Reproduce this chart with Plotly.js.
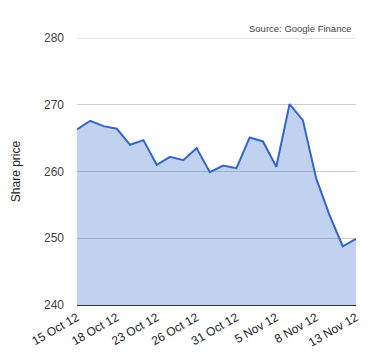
<!DOCTYPE html>
<html>
<head>
<meta charset="utf-8">
<script src="https://cdn.plot.ly/plotly-3.0.1.min.js"></script>
<style>html,body{margin:0;padding:0;background:#fff;}#chart{width:380px;height:360px;}</style>
</head>
<body>
<div id="chart"></div>
<script>
var dates = ["15 Oct 12","16 Oct 12","17 Oct 12","18 Oct 12","19 Oct 12","22 Oct 12","23 Oct 12","24 Oct 12","25 Oct 12","26 Oct 12","29 Oct 12","30 Oct 12","31 Oct 12","1 Nov 12","2 Nov 12","5 Nov 12","6 Nov 12","7 Nov 12","8 Nov 12","9 Nov 12","12 Nov 12","13 Nov 12"];
var prices = [266.3,267.6,266.8,266.4,264.0,264.7,261.0,262.2,261.7,263.5,259.9,260.9,260.5,265.1,264.5,260.7,270.1,267.7,259.0,253.5,248.8,249.9];
var tickLabels = ["15 Oct 12","18 Oct 12","23 Oct 12","26 Oct 12","31 Oct 12","5 Nov 12","8 Nov 12","13 Nov 12"];
var yTicks = [240,250,260,270,280];
var yMin = yTicks[0], yMax = yTicks[yTicks.length - 1];

var trace = {
  x: dates, y: prices, type: 'scatter', mode: 'lines',
  line: {color: '#3366cc', width: 2},
  fill: 'tozeroy', fillcolor: 'rgba(51,102,204,0.3)',
  hoverinfo: 'x+y'
};
var layout = {
  width: 380, height: 360,
  margin: {l: 77, r: 24, t: 38, b: 55},
  paper_bgcolor: '#fff', plot_bgcolor: '#fff',
  font: {family: 'Liberation Sans, Arial, sans-serif', size: 12, color: '#444'},
  showlegend: false,
  xaxis: {
    type: 'category', range: [0, dates.length - 1],
    tickmode: 'array', tickvals: tickLabels, ticktext: tickLabels,
    tickangle: -30, showgrid: false, ticks: '',
    showline: true, linecolor: '#333', linewidth: 1,
    tickfont: {size: 12, color: '#222'}, zeroline: false
  },
  yaxis: {
    range: [yMin, yMax], tickmode: 'array', tickvals: yTicks,
    showgrid: true, gridcolor: '#ccc', gridwidth: 1, zeroline: false,
    ticks: '', ticklabelstandoff: 12, tickfont: {size: 12, color: '#444'},
    title: {text: 'Share price', font: {size: 12, color: '#222'}, standoff: 20}
  },
  shapes: [{
    type: 'line', xref: 'paper', yref: 'y', x0: 0, x1: 1, y0: yMax, y1: yMax,
    line: {color: '#ccc', width: 1}, layer: 'below'
  }],
  annotations: [{
    text: 'Source: Google Finance', xref: 'paper', yref: 'paper',
    x: 0.99, y: 1, xanchor: 'right', yanchor: 'bottom', yshift: 2, showarrow: false,
    font: {size: 9.5, color: '#444'}
  }]
};
Plotly.newPlot('chart', [trace], layout, {displayModeBar: false, staticPlot: true});
</script>
</body>
</html>
